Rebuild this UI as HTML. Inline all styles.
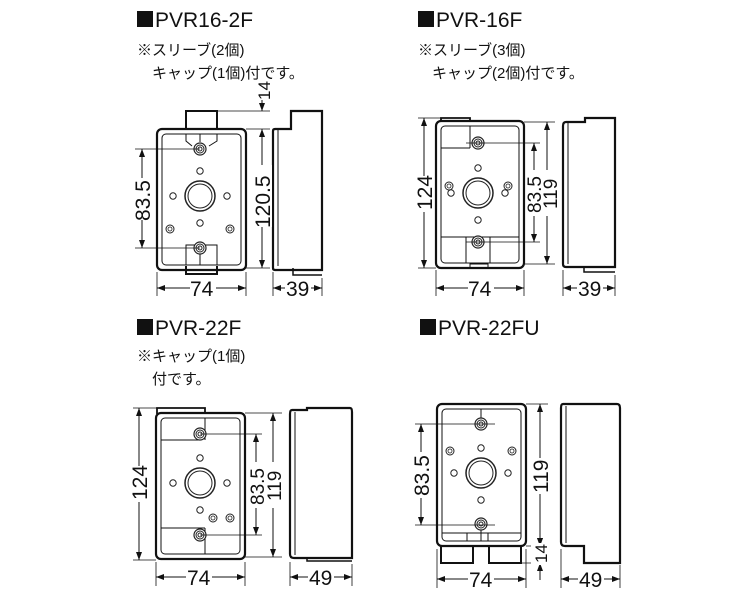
<!DOCTYPE html>
<html><head><meta charset="utf-8"><style>
html,body{margin:0;padding:0;background:#fff;}
svg{display:block;}
.t{font-family:"Liberation Sans","Noto Sans CJK JP",sans-serif;fill:#111;}
.d{font-family:"Liberation Sans",sans-serif;font-size:21px;fill:#111;}
</style></head><body>
<svg width="750" height="597" viewBox="0 0 750 597" xmlns="http://www.w3.org/2000/svg">
<defs>
<marker id="a" markerWidth="8" markerHeight="6" refX="8" refY="3" orient="auto-start-reverse" markerUnits="userSpaceOnUse"><path d="M0,0 L8,3 L0,6 z" fill="#111"/></marker>
<g id="scr"><circle r="6" fill="#fff" stroke="#222" stroke-width="1.2"/><circle r="4" fill="none" stroke="#222"/><circle r="2" fill="none" stroke="#222"/></g>
<g id="ss"><circle r="4" fill="#fff" stroke="#222" stroke-width="1"/><circle r="2" fill="none" stroke="#222" stroke-width=".8"/></g>
<g id="face"><circle r="15" fill="#fff" stroke="#222" stroke-width="1.5"/><circle r="12" fill="none" stroke="#222" stroke-width="1"/>
<circle cx="0" cy="-25" r="3.2" fill="none" stroke="#222"/><circle cx="0" cy="27" r="3.2" fill="none" stroke="#222"/>
<circle cx="-27" cy="0" r="3.2" fill="none" stroke="#222"/><circle cx="27" cy="0" r="3.2" fill="none" stroke="#222"/></g>
</defs>

<!-- Titles -->
<g fill="#111">
<rect x="137" y="11" width="16" height="16"/>
<rect x="418" y="11" width="16" height="16"/>
<rect x="137" y="319" width="16" height="16"/>
<rect x="420" y="319" width="16" height="16"/>
</g>
<g class="t">
<text x="155" y="27" font-size="21">PVR16-2F</text>
<text x="137" y="55" font-size="15">※スリーブ(2個)</text>
<text x="152" y="78" font-size="15">キャップ(1個)付です。</text>
<text x="436" y="27" font-size="21">PVR-16F</text>
<text x="418" y="55" font-size="15">※スリーブ(3個)</text>
<text x="432" y="78" font-size="15">キャップ(2個)付です。</text>
<text x="155" y="335" font-size="21">PVR-22F</text>
<text x="137" y="361" font-size="15">※キャップ(1個)</text>
<text x="152" y="384" font-size="15">付です。</text>
<text x="438" y="335" font-size="21">PVR-22FU</text>
</g>

<g fill="none" stroke="#111" stroke-width="1">
<!-- ===== Diagram 1 ===== -->
<path d="M186,129 V111 H217 V129" stroke-width="2"/>
<rect x="157" y="129" width="89" height="141" rx="5" stroke-width="2.2" fill="#fff"/>
<rect x="162" y="134" width="79" height="131" rx="4"/>
<path d="M186,266 V274 H217 V266" stroke-width="2"/>
<path d="M186,134 V141 L192,146 M217,134 V141 L209,146 M200,134 V142"/>
<path d="M186,265 V245 H217 V265 M200,254 V265"/>
<use href="#scr" x="200" y="149"/><use href="#scr" x="200" y="248"/>
<use href="#face" x="200" y="196"/>
<use href="#ss" x="170" y="229"/><use href="#ss" x="230" y="229"/>
<path d="M273,131 Q273,129 275,129 H291 V111 H322 V270 H275 Q273,270 273,268 Z" stroke-width="2.2"/>
<path d="M293,268 V275 H322" stroke-width="1.5"/>
<path d="M278,129 V266"/>
<path d="M135,149 H200 M135,248 H200" stroke-width=".8"/>
<line x1="142" y1="149" x2="142" y2="248" marker-start="url(#a)" marker-end="url(#a)"/>
<path d="M217,111 H270 M246,129 H270 M246,268 H270" stroke-width=".8"/>
<line x1="262" y1="129" x2="262" y2="268" marker-start="url(#a)" marker-end="url(#a)"/>
<line x1="262" y1="100" x2="262" y2="111" marker-end="url(#a)"/>
<path d="M157,272 V296 M246,272 V296 M273,272 V296 M322,278 V296" stroke-width=".8"/>
<line x1="157" y1="288" x2="246" y2="288" marker-start="url(#a)" marker-end="url(#a)"/>
<line x1="273" y1="288" x2="322" y2="288" marker-start="url(#a)" marker-end="url(#a)"/>

<!-- ===== Diagram 2 ===== -->
<path d="M441,122 V118 H470 V122" stroke-width="1.8"/>
<rect x="436" y="121" width="88" height="147" rx="5" stroke-width="2.2" fill="#fff"/>
<rect x="441" y="126" width="78" height="137" rx="4"/>
<path d="M441,148 H470 M470,126 V148 M441,237 H519 M466,237 V263 M490,237 V263"/>
<path d="M470,268 V264 H488 V268" />
<use href="#scr" x="478" y="143"/><use href="#scr" x="478" y="242"/>
<use href="#face" x="478" y="193"/>
<use href="#ss" x="449" y="186"/><use href="#ss" x="508" y="186"/>
<path d="M566,122 Q563,122 563,126 V264 Q563,267 566,267 H615 V118 H585 V122 Z" stroke-width="2.2"/>
<path d="M584,268 V272 H615" stroke-width="1.5"/>
<path d="M568,122 V264"/>
<path d="M418,118 H441 M418,268 H436" stroke-width=".8"/>
<line x1="424" y1="118" x2="424" y2="268" marker-start="url(#a)" marker-end="url(#a)"/>
<path d="M466,143 H540 M466,242 H540" stroke-width=".8"/>
<line x1="534" y1="143" x2="534" y2="242" marker-start="url(#a)" marker-end="url(#a)"/>
<path d="M524,122 H555 M524,264 H555" stroke-width=".8"/>
<line x1="547" y1="122" x2="547" y2="264" marker-start="url(#a)" marker-end="url(#a)"/>
<path d="M436,270 V296 M524,270 V296 M563,270 V296 M615,275 V296" stroke-width=".8"/>
<line x1="436" y1="288" x2="524" y2="288" marker-start="url(#a)" marker-end="url(#a)"/>
<line x1="563" y1="288" x2="615" y2="288" marker-start="url(#a)" marker-end="url(#a)"/>

<!-- ===== Diagram 3 ===== -->
<path d="M157,414 V408 H205 V414" stroke-width="1.8"/>
<rect x="156" y="413" width="89" height="146" rx="5" stroke-width="2.2" fill="#fff"/>
<rect x="161" y="418" width="79" height="136" rx="4"/>
<path d="M161,440 H200 M205,418 V440 M161,528 H205 M205,528 V554"/>
<use href="#scr" x="200" y="434"/><use href="#scr" x="200" y="535"/>
<use href="#face" x="200" y="483"/>
<use href="#ss" x="213" y="518"/><use href="#ss" x="230" y="518"/>
<path d="M292,410 H307 V408 H350 Q352,408 352,412 V558 H294 Q290,558 290,554 V414 Q290,410 292,410 Z" stroke-width="2.2"/>
<path d="M307,558 V561 H352" stroke-width="1.5"/>
<path d="M295,412 V555"/>
<path d="M133,408 H157 M133,560 H156" stroke-width=".8"/>
<line x1="139" y1="408" x2="139" y2="560" marker-start="url(#a)" marker-end="url(#a)"/>
<path d="M200,434 H262 M200,535 H262" stroke-width=".8"/>
<line x1="256" y1="434" x2="256" y2="535" marker-start="url(#a)" marker-end="url(#a)"/>
<path d="M245,413 H282 M245,557 H282" stroke-width=".8"/>
<line x1="273" y1="413" x2="273" y2="557" marker-start="url(#a)" marker-end="url(#a)"/>
<path d="M156,562 V586 M245,562 V586 M290,562 V586 M352,564 V586" stroke-width=".8"/>
<line x1="156" y1="577" x2="245" y2="577" marker-start="url(#a)" marker-end="url(#a)"/>
<line x1="290" y1="577" x2="352" y2="577" marker-start="url(#a)" marker-end="url(#a)"/>

<!-- ===== Diagram 4 ===== -->
<rect x="437" y="404" width="89" height="142" rx="5" stroke-width="2.2" fill="#fff"/>
<rect x="442" y="409" width="79" height="132" rx="4"/>
<path d="M442,533 H521 M467,533 V541 M488,533 V541 M481,409 V418 M481,529 V541"/>
<path d="M441,546 V563 H473 V546 M489,546 V563 H521 V546" stroke-width="2"/>
<use href="#scr" x="481" y="424"/><use href="#scr" x="481" y="524"/>
<use href="#face" x="481" y="473"/>
<use href="#ss" x="450" y="451"/><use href="#ss" x="512" y="451"/>
<path d="M563,404 H617 Q620,404 620,408 V563 H584 V546 H565 Q561,546 561,542 V408 Q561,404 563,404 Z" stroke-width="2.2"/>
<path d="M566,406 V543"/>
<path d="M415,424 H495 M415,525 H495" stroke-width=".8"/>
<line x1="421" y1="424" x2="421" y2="525" marker-start="url(#a)" marker-end="url(#a)"/>
<path d="M526,404 H548 M526,546 H548 M522,563 H548" stroke-width=".8"/>
<line x1="540" y1="404" x2="540" y2="546" marker-start="url(#a)" marker-end="url(#a)"/>
<line x1="540" y1="534" x2="540" y2="546" marker-end="url(#a)"/>
<line x1="540" y1="580" x2="540" y2="563" marker-end="url(#a)"/>
<path d="M437,549 V588 M526,549 V588 M561,549 V588 M620,565 V588" stroke-width=".8"/>
<line x1="437" y1="579" x2="526" y2="579" marker-start="url(#a)" marker-end="url(#a)"/>
<line x1="561" y1="579" x2="620" y2="579" marker-start="url(#a)" marker-end="url(#a)"/>
</g>

<g class="d">
<rect x="190" y="279" width="26" height="20" fill="#fff"/><text x="190" y="296">74</text>
<rect x="285" y="279" width="26" height="20" fill="#fff"/><text x="286" y="296">39</text>
<rect x="132" y="178" width="20" height="42" fill="#fff"/><text transform="translate(150,221) rotate(-90)">83.5</text>
<rect x="252" y="165" width="20" height="62" fill="#fff"/><text transform="translate(270,228) rotate(-90)">120.5</text>
<text transform="translate(270,100) rotate(-90)" font-size="17">14</text>

<rect x="468" y="279" width="26" height="20" fill="#fff"/><text x="468" y="296">74</text>
<rect x="577" y="279" width="26" height="20" fill="#fff"/><text x="578" y="296">39</text>
<rect x="414" y="176" width="20" height="36" fill="#fff"/><text transform="translate(432,210) rotate(-90)">124</text>
<rect x="526" y="170" width="32" height="46" fill="#fff"/><text transform="translate(541,213) rotate(-90)" font-size="19">83.5</text>
<text transform="translate(557,209) rotate(-90)" font-size="19">119</text>

<rect x="186" y="568" width="26" height="20" fill="#fff"/><text x="187" y="585">74</text>
<rect x="308" y="568" width="26" height="20" fill="#fff"/><text x="309" y="585">49</text>
<rect x="130" y="466" width="20" height="36" fill="#fff"/><text transform="translate(147,500) rotate(-90)">124</text>
<rect x="248" y="462" width="34" height="46" fill="#fff"/><text transform="translate(264,505) rotate(-90)" font-size="19">83.5</text>
<text transform="translate(281,501) rotate(-90)" font-size="19">119</text>

<rect x="468" y="570" width="26" height="20" fill="#fff"/><text x="469" y="587">74</text>
<rect x="578" y="570" width="26" height="20" fill="#fff"/><text x="579" y="587">49</text>
<rect x="412" y="452" width="20" height="46" fill="#fff"/><text transform="translate(429,496) rotate(-90)">83.5</text>
<rect x="531" y="458" width="20" height="36" fill="#fff"/><text transform="translate(548,493) rotate(-90)">119</text>
<rect x="531" y="543" width="20" height="22" fill="#fff"/><text transform="translate(547,563) rotate(-90)" font-size="17">14</text>
</g>
</svg>
</body></html>
